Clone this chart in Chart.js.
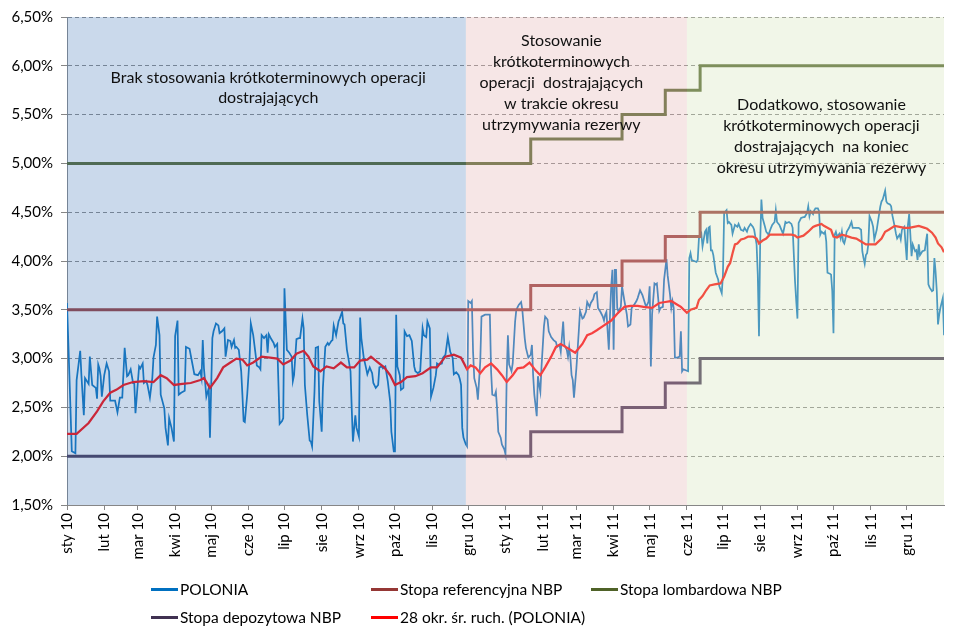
<!DOCTYPE html>
<html lang="pl">
  <head>
    <meta charset="UTF-8" />
    <title>POLONIA a stopy NBP</title>
    <script src="https://cdn.jsdelivr.net/npm/chart.js@4.4.1/dist/chart.umd.min.js"></script>
    <style>
      body { margin: 0; background: #fff; overflow: hidden; }
      #wrap { position: relative; width: 958px; height: 638px; }
      #chart { display: block; }
      .legend { position: absolute; left: 0; top: 0; font: 15.5px Lato, sans-serif; color: #000; }
      .legend div { position: absolute; white-space: nowrap; display: flex; align-items: center; }
      .legend span.line { display: inline-block; width: 27px; height: 3px; margin-right: 2px; }
    </style>
  </head>
  <body>
    <div id="wrap">
      <canvas id="chart" width="958" height="638"></canvas>
      <div class="legend" id="legend"></div>
    </div>
    <script>
      // x values are days counted from 1 Jan 2010
      const tickLabels = [
        "sty 10", "lut 10", "mar 10", "kwi 10", "maj 10", "cze 10",
        "lip 10", "sie 10", "wrz 10", "paź 10", "lis 10", "gru 10",
        "sty 11", "lut 11", "mar 11", "kwi 11", "maj 11", "cze 11",
        "lip 11", "sie 11", "wrz 11", "paź 11", "lis 11", "gru 11",
      ];

      const poloniaDay = [
        0,2,4,7,8,11,12,14,15,18,19,21,24,25,26,27,28,29,31,33,35,36,40,42,44,46,48,50,51,53,55,56,57,60,61,63,64,66,67,69,71,72,74,75,77,78,81,82,84,85,87,89,90,92,93,95,98,99,
        102,104,106,109,111,112,113,114,116,118,119,121,122,124,126,127,129,131,132,134,136,137,139,140,141,143,145,146,147,148,150,152,153,155,157,158,160,161,162,164,166,167,168,170,172,173,175,177,179,180,181,183,185,187,188,189,191,193,194,196,197,198,200,202,203,204,
        206,207,209,210,212,213,215,217,218,220,221,222,224,226,227,229,230,231,233,234,236,237,238,240,241,243,244,245,247,249,250,252,254,255,257,259,260,262,263,265,267,269,270,272,273,274,275,277,278,280,281,283,285,286,287,289,290,292,294,296,297,299,300,302,303,305,307,
        308,309,312,313,315,317,319,321,322,324,326,327,328,329,330,332,333,334,336,337,338,339,341,342,344,345,348,351,352,353,354,356,357,358,359,361,362,364,365,366,367,368,370,371,373,374,376,378,379,381,382,384,386,387,388,389,391,392,393,394,395,397,398,400,401,403,405,407,408,410,
        411,413,414,416,417,418,419,420,421,422,424,426,427,429,430,432,433,435,436,438,439,441,442,444,446,447,448,449,451,452,453,454,455,456,457,458,459,461,462,464,466,467,469,470,472,474,475,477,479,480,482,484,485,486,487,489,490,491,493,494,496,497,499,500,502,503,504,505,506,508,510,511,512,
        513,515,517,518,519,520,522,524,525,526,528,529,530,531,532,533,534,535,536,537,538,540,542,543,545,546,547,549,550,551,553,554,556,558,559,561,563,564,566,567,569,571,572,574,575,576,577,578,579,581,582,584,586,587,589,590,591,593,594,596,598,599,601,603,604,606,607,608,609,611,613,614,616,617,618,619,621,622,
        623,625,626,627,628,630,631,632,633,635,636,637,638,639,640,641,643,644,645,646,647,648,649,651,652,653,654,656,658,659,661,662,663,664,665,666,667,668,670,671,672,674,675,676,677,678,679,681,682,683,685,686,687,689,690,691,693,694,695,697,698,699,700,701,702,703,704,706,707,708,709,710,711,712,714,715,716,717,718,720,721,722,723,724,725,726,727,729,730,
      ];
      const poloniaRate = [
        3.57,2.83,2.05,2.03,2.78,3.08,2.83,2.42,2.80,2.74,3.02,2.73,2.70,2.59,2.94,2.90,2.82,2.61,2.83,2.95,2.87,2.57,2.57,2.45,2.60,2.60,3.11,2.82,2.83,2.89,2.75,2.75,2.44,2.92,2.90,2.95,2.75,2.77,2.73,2.60,2.80,3.01,3.14,3.43,3.24,2.63,2.49,2.29,2.11,2.39,2.29,2.15,3.23,3.39,2.63,2.65,2.67,3.12,
        3.10,2.97,2.84,2.83,2.87,2.80,3.19,2.90,2.61,2.70,2.19,3.21,3.28,3.36,3.34,3.26,3.28,3.31,3.02,3.19,3.18,3.12,3.19,3.11,3.12,3.09,2.87,2.63,2.36,2.35,2.63,3.01,3.36,3.24,3.04,2.93,2.91,2.89,3.24,3.21,3.24,3.06,3.25,3.20,3.16,3.12,3.15,2.33,2.36,2.39,3.72,3.09,3.06,3.02,2.77,2.83,3.20,3.21,3.21,3.41,3.31,2.73,2.42,2.16,2.15,2.10,
        2.66,3.11,3.12,2.56,2.25,2.70,3.12,3.16,3.14,3.18,3.19,3.34,3.24,3.38,3.41,3.48,3.36,3.35,3.09,3.02,2.87,2.49,2.15,2.42,2.29,2.20,3.42,3.21,3.01,2.90,2.84,2.91,2.85,2.75,2.70,2.73,2.91,2.92,2.90,2.92,2.77,2.56,2.25,2.05,2.05,3.45,2.92,2.83,2.68,2.70,3.28,3.23,3.24,3.21,3.18,2.92,2.87,2.85,2.87,3.31,3.24,3.22,3.38,3.31,2.61,2.70,2.83,
        2.95,2.94,2.95,3.01,3.04,3.22,3.07,3.01,2.84,2.86,2.83,2.79,2.73,2.29,2.19,2.12,2.10,3.59,3.57,3.59,3.07,2.80,2.70,2.58,2.97,3.43,3.45,3.45,3.45,2.87,2.63,2.62,2.66,2.49,2.25,2.19,2.12,2.07,2.02,2.83,3.24,2.94,2.87,2.95,3.38,3.50,3.55,3.58,3.50,3.21,3.11,3.01,3.04,3.14,2.83,2.63,2.41,2.82,2.73,2.66,2.92,3.33,3.43,3.40,3.28,3.22,3.19,3.17,3.12,3.14,
        3.07,3.38,3.14,3.09,3.02,3.12,3.01,2.83,2.78,2.60,2.90,3.28,3.49,3.41,3.42,3.48,3.58,3.53,3.57,3.61,3.66,3.68,3.52,3.48,3.43,3.39,3.45,3.48,3.09,3.45,3.74,3.91,3.09,3.91,3.91,3.52,3.48,3.53,3.74,3.59,3.45,3.33,3.35,3.52,3.55,3.59,3.62,3.70,3.65,3.61,3.53,3.58,3.74,2.92,3.45,3.77,3.76,3.77,3.49,3.52,3.53,3.81,4.02,3.85,3.65,3.52,3.59,3.52,3.01,3.01,3.02,3.28,2.87,
        2.89,2.88,2.87,4.03,4.08,4.01,4.00,3.99,4.01,4.23,4.28,4.15,4.22,4.30,4.32,4.18,4.34,4.35,4.11,4.11,4.06,3.88,3.81,3.74,3.67,3.86,4.49,4.52,4.39,4.40,4.37,4.28,4.37,4.35,4.38,4.32,4.31,4.34,4.30,4.34,4.38,4.35,4.32,4.17,3.86,3.23,4.20,4.63,4.44,4.35,4.30,4.27,4.34,4.37,4.40,4.52,4.40,4.37,4.34,4.28,4.40,4.39,4.40,4.38,4.34,3.79,3.59,3.41,4.39,4.44,4.45,4.45,4.49,4.56,4.46,4.51,4.48,4.52,
        4.54,4.54,4.51,4.27,4.30,4.28,4.30,4.20,3.88,3.87,3.86,3.69,3.26,4.27,4.30,4.25,4.28,4.23,4.30,4.20,4.18,4.23,4.30,4.34,4.37,4.40,4.34,4.34,4.34,4.34,4.32,4.10,4.03,3.97,4.06,4.08,4.17,4.46,4.40,4.35,4.22,4.32,4.40,4.48,4.56,4.61,4.63,4.72,4.61,4.59,4.58,4.56,4.47,4.35,4.28,4.23,4.27,4.22,4.32,4.35,4.17,4.01,4.37,4.48,4.27,4.05,4.17,4.10,4.11,4.01,4.17,4.06,4.08,4.10,4.11,4.20,4.28,3.76,3.73,3.69,3.70,4.03,3.89,3.69,3.35,3.45,3.52,3.62,3.24,
      ];

      // 28-period moving average of POLONIA
      const maDay = [
        0,8,18,25,30,36,41,47,55,64,72,78,83,89,96,103,111,114,119,125,130,136,141,146,150,155,162,169,175,180,
        186,191,197,201,205,211,216,222,228,233,239,244,250,253,258,264,269,273,278,283,290,296,303,308,315,322,328,333,336,340,
        344,348,353,358,362,366,371,375,380,385,390,394,398,403,407,411,415,419,423,429,433,437,441,447,453,458,464,469,475,480,
        487,493,498,503,507,511,516,519,524,526,529,532,535,539,544,547,550,552,554,556,558,561,564,567,571,574,576,579,582,585,
        588,592,597,603,606,608,613,617,621,623,628,630,633,636,638,641,645,648,653,657,661,665,669,673,678,681,684,689,693,697,
        701,705,709,714,716,720,723,725,728,730,
      ];
      const maRate = [
        2.23,2.23,2.34,2.46,2.56,2.65,2.68,2.73,2.76,2.77,2.76,2.83,2.80,2.73,2.74,2.75,2.78,2.80,2.70,2.80,2.91,2.96,3.00,2.99,2.93,2.96,3.02,3.01,3.00,2.94,
        2.98,3.05,3.08,3.02,2.92,2.87,2.92,2.90,2.96,2.91,2.91,2.98,2.99,3.02,2.97,2.91,2.83,2.73,2.76,2.81,2.82,2.85,2.91,2.91,3.02,3.04,3.01,2.89,2.93,2.91,
        2.85,2.91,2.95,2.89,2.83,2.76,2.83,2.90,2.91,2.96,2.88,2.83,2.91,3.02,3.12,3.15,3.12,3.09,3.06,3.15,3.24,3.26,3.29,3.34,3.39,3.46,3.53,3.54,3.54,3.53,
        3.52,3.57,3.58,3.59,3.56,3.53,3.47,3.50,3.52,3.60,3.64,3.70,3.75,3.76,3.77,3.84,3.94,3.98,4.08,4.17,4.18,4.22,4.23,4.25,4.25,4.23,4.18,4.21,4.23,4.27,
        4.27,4.27,4.27,4.27,4.26,4.24,4.26,4.30,4.35,4.36,4.38,4.36,4.34,4.32,4.25,4.24,4.27,4.26,4.24,4.23,4.20,4.17,4.17,4.17,4.23,4.30,4.32,4.36,4.35,4.34,
        4.34,4.35,4.36,4.34,4.33,4.29,4.24,4.18,4.14,4.09,
      ];

      // NBP rates: value valid from the given day
      const rateDay = [0, 386, 462, 498, 527, 730];
      const refRate = [3.5, 3.75, 4.0, 4.25, 4.5, 4.5];
      const lombardRate = [5.0, 5.25, 5.5, 5.75, 6.0, 6.0];
      const depositRate = [2.0, 2.25, 2.5, 2.75, 3.0, 3.0];

      // periods of the operational framework
      const periodStart = [0, 332, 516];
      const periodEnd = [332, 516, 730];
      const periodText = [
        ["Brak stosowania krótkoterminowych operacji", "dostrajających"],
        ["Stosowanie", "krótkoterminowych", "operacji  dostrajających", "w trakcie okresu", "utrzymywania rezerwy"],
        ["Dodatkowo, stosowanie", "krótkoterminowych operacji", "dostrajających  na koniec", "okresu utrzymywania rezerwy"],
      ];
      // where each note sits: day of its centre, value of its first line
      const noteDay = [167.5, 411.5, 628];
      const noteValue = [5.876, 6.255, 5.6];
      const noteLineGap = [20, 21, 21];
      const periodColor = [
        "rgba(79, 129, 189, 0.3)",
        "rgba(230, 184, 183, 0.35)",
        "rgba(215, 228, 189, 0.35)",
      ];

      const monthDays = tickLabels.map(
        (_, i) => (Date.UTC(2010, i, 1) - Date.UTC(2010, 0, 1)) / 864e5
      );

      const font = { family: "Lato, sans-serif", size: 15 };

      function pts(days, vals) {
        return days.map((d, i) => ({ x: d, y: vals[i] }));
      }

      const series = [
        { label: "POLONIA", data: pts(poloniaDay, poloniaRate), color: "#0070C0", width: 1.75, order: 5 },
        { label: "Stopa referencyjna NBP", data: pts(rateDay, refRate), color: "#953735", width: 3, order: 4, stepped: true },
        { label: "Stopa lombardowa NBP", data: pts(rateDay, lombardRate), color: "#4F6228", width: 3, order: 3, stepped: true },
        { label: "Stopa depozytowa NBP", data: pts(rateDay, depositRate), color: "#403151", width: 3, order: 2, stepped: true },
        { label: "28 okr. śr. ruch. (POLONIA)", data: pts(maDay, maRate), color: "#FF0000", width: 2.25, order: 1 },
      ];

      const periodsPlugin = {
        id: "periods",
        afterDatasetsDraw(chart) {
          const { ctx, chartArea, scales } = chart;
          const x = scales.x, y = scales.y;
          ctx.save();
          for (let i = 0; i < periodStart.length; i++) {
            const x0 = x.getPixelForValue(periodStart[i]);
            const x1 = x.getPixelForValue(periodEnd[i]);
            ctx.fillStyle = periodColor[i];
            ctx.fillRect(x0, chartArea.top, x1 - x0, chartArea.bottom - chartArea.top);
          }
          ctx.fillStyle = "#111";
          ctx.font = "16px Lato, sans-serif";
          ctx.textAlign = "center";
          ctx.textBaseline = "middle";
          periodText.forEach((lines, i) => {
            const cx = x.getPixelForValue(noteDay[i]);
            const cy = y.getPixelForValue(noteValue[i]);
            lines.forEach((t, j) => ctx.fillText(t, cx, cy + j * noteLineGap[i]));
          });
          ctx.restore();
        },
      };

      new Chart(document.getElementById("chart"), {
        type: "line",
        data: {
          datasets: series.map((s) => ({
            label: s.label,
            data: s.data,
            borderColor: s.color,
            backgroundColor: s.color,
            borderWidth: s.width,
            stepped: s.stepped || false,
            pointRadius: 0,
            tension: 0,
            order: s.order,
          })),
        },
        options: {
          responsive: false,
          animation: false,
          layout: { padding: { top: 17, right: 14, left: 0, bottom: 0 } },
          plugins: { legend: { display: false }, tooltip: { enabled: false } },
          scales: {
            x: {
              type: "linear",
              min: 0,
              max: 730,
              afterBuildTicks: (axis) => {
                axis.ticks = monthDays.map((v) => ({ value: v }));
              },
              afterFit: (axis) => {
                axis.height = 133;
              },
              ticks: {
                autoSkip: false,
                minRotation: 90,
                maxRotation: 90,
                padding: 3,
                color: "#000",
                font: font,
                callback: (v, i) => tickLabels[i],
              },
              grid: { drawOnChartArea: false, tickLength: 5, color: "#868686" },
              border: { color: "#868686" },
            },
            y: {
              min: 1.5,
              max: 6.5,
              afterFit: (axis) => {
                axis.width = 67;
              },
              ticks: {
                stepSize: 0.5,
                padding: 8,
                color: "#000",
                font: font,
                callback: (v) => v.toFixed(2).replace(".", ",") + "%",
              },
              grid: { color: "#868686", tickLength: 6 },
              border: { color: "#868686", dash: [4, 3] },
            },
          },
        },
        plugins: [periodsPlugin],
      });

      // legend laid out in columns as in the original
      const legendCols = [151, 371, 591];
      const legendRows = [589, 617];
      const legend = document.getElementById("legend");
      series.forEach((s, i) => {
        const item = document.createElement("div");
        item.style.left = legendCols[i % 3] + "px";
        item.style.top = legendRows[Math.floor(i / 3)] - 10 + "px";
        item.style.height = "20px";
        item.innerHTML =
          '<span class="line" style="background:' + s.color + '"></span>' + s.label;
        legend.appendChild(item);
      });
    </script>
  </body>
</html>
